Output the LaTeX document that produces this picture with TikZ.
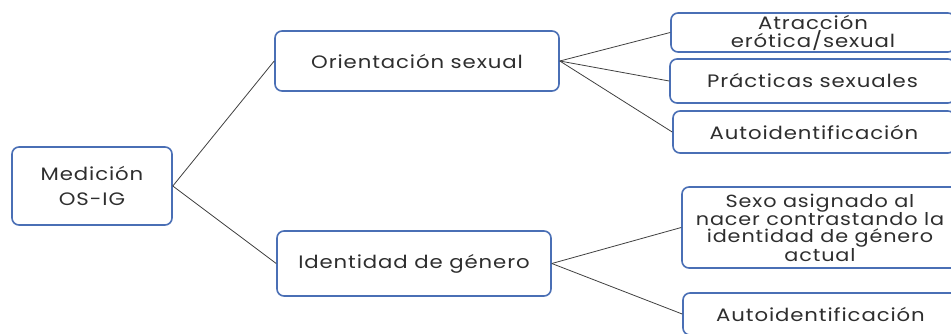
\documentclass[tikz,border=0pt]{standalone}
\usepackage{fontspec}
\setmainfont[FakeStretch=1.18,LetterSpace=5]{Poppins}
\definecolor{bx}{HTML}{4A6FB5}
\definecolor{tx}{HTML}{2E2E2E}
\definecolor{ln}{HTML}{404040}
\begin{document}
\begin{tikzpicture}[x=1pt,y=-1pt,
  box/.style={draw=bx, line width=1.6pt, rounded corners=7pt, fill=white, text=tx,
    align=center, inner sep=0pt, font=\fontsize{18}{16}\selectfont},
  link/.style={draw=ln, line width=0.8pt}]
\useasboundingbox (0,0) rectangle (951,333);
\clip (0,0) rectangle (951,333);
\node[box, minimum width=160pt, minimum height=78pt, font=\fontsize{18}{25}\selectfont] (med) at (92,186) {Medición\\OS-IG};
\node[box, minimum width=284pt, minimum height=60pt] (ori) at (417,61) {Orientación sexual};
\node[box, minimum width=274pt, minimum height=65pt] (ide) at (414,263.5) {Identidad de género};
\node[box, minimum width=284pt, minimum height=39pt, font=\fontsize{18}{14.5}\selectfont] (atr) at (813,32.5) {Atracción\\erótica/sexual};
\node[box, minimum width=285pt, minimum height=44pt] (pra) at (812.5,81) {Prácticas sexuales};
\node[box, minimum width=282pt, minimum height=42pt] (aut) at (814,132) {Autoidentificación};
\node[box, minimum width=276pt, minimum height=81pt, font=\fontsize{17.6}{16.4}\selectfont] (sex) at (820,227.5) {Sexo asignado al\\nacer contrastando la\\identidad de género\\actual};
\node[box, minimum width=275pt, minimum height=42pt] (aut2) at (820.5,314) {Autoidentificación};
\draw[link] (med.east) -- (ori.west);
\draw[link] (med.east) -- (ide.west);
\draw[link] (ori.east) -- (atr.west);
\draw[link] (ori.east) -- (pra.west);
\draw[link] (ori.east) -- (aut.west);
\draw[link] (ide.east) -- (sex.west);
\draw[link] (ide.east) -- (aut2.west);
\end{tikzpicture}
\end{document}
